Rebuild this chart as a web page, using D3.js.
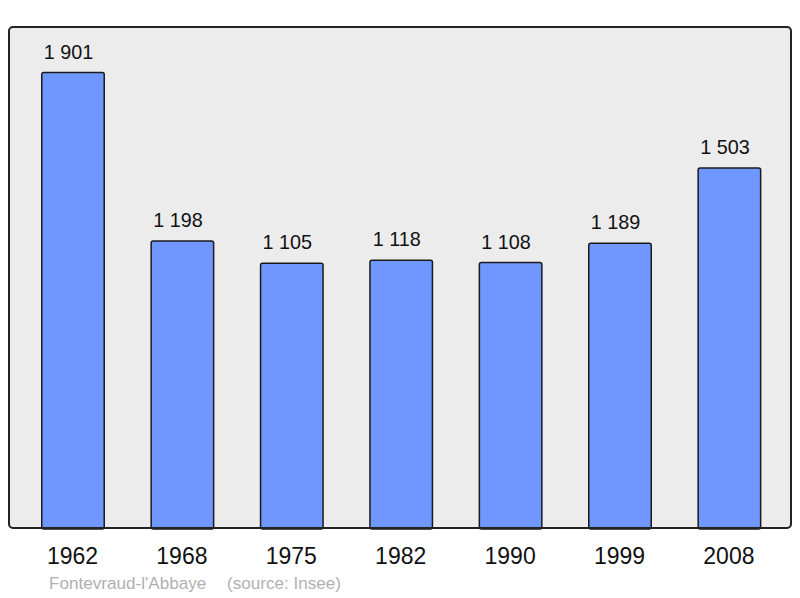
<!DOCTYPE html>
<html><head><meta charset="utf-8">
<script src="https://cdn.jsdelivr.net/npm/d3@7"></script>
<style>body{margin:0;background:#fff}svg{display:block}</style>
</head><body>
<script>
const years = ["1962","1968","1975","1982","1990","1999","2008"];
const population = [1901,1198,1105,1118,1108,1189,1503];
const valueLabels = ["1 901","1 198","1 105","1 118","1 108","1 189","1 503"];
const footerName = "Fontevraud-l'Abbaye";
const footerSource = "(source: Insee)";

const W = 800, H = 598;
const frame = {x0: 9, y0: 27, x1: 791, y1: 528};
const svg = d3.select("body").append("svg").attr("width", W).attr("height", H);

svg.append("rect")
  .attr("x", frame.x0).attr("y", frame.y0)
  .attr("width", frame.x1 - frame.x0).attr("height", frame.y1 - frame.y0)
  .attr("rx", 4).attr("ry", 4)
  .attr("fill", "#ececec").attr("stroke", "#222").attr("stroke-width", 2);

const x = d3.scaleBand().domain(years).range([18.3, 784.1]).padding(0);
const y = d3.scaleLinear().domain([0, d3.max(population) * 1.1]).range([frame.y1, frame.y0]);
const bw = x.bandwidth() * 0.571;

const g = svg.append("g");
g.selectAll("rect.bar").data(years).enter().append("rect")
  .attr("class", "bar")
  .attr("x", d => x(d) + x.bandwidth() / 2 - bw / 2)
  .attr("y", (d, i) => y(population[i]))
  .attr("width", bw)
  .attr("height", (d, i) => frame.y1 - y(population[i]) + 1)
  .attr("rx", 2).attr("ry", 2)
  .attr("fill", "#7097ff").attr("stroke", "#1a1a1a").attr("stroke-width", 1.5);

svg.append("line")
  .attr("x1", frame.x0 + 3).attr("x2", frame.x1 - 3)
  .attr("y1", frame.y1).attr("y2", frame.y1)
  .attr("stroke", "#222").attr("stroke-width", 2);

g.selectAll("text.val").data(years).enter().append("text")
  .attr("class", "val")
  .attr("x", d => x(d) + x.bandwidth() / 2 - 4.5)
  .attr("y", (d, i) => y(population[i]) - 14)
  .attr("text-anchor", "middle")
  .attr("font-family", "Liberation Sans, Arial, sans-serif")
  .attr("font-size", 19.8).attr("fill", "#111")
  .text((d, i) => valueLabels[i]);

const xAxis = d3.axisBottom(x).tickSize(0).tickPadding(0);
const ax = svg.append("g").attr("transform", `translate(0,${frame.y1})`).call(xAxis);
ax.select(".domain").remove();
ax.selectAll("text")
  .attr("x", -0.5)
  .attr("y", 36).attr("dy", 0)
  .attr("font-family", "Liberation Sans, Arial, sans-serif")
  .attr("font-size", 23).attr("fill", "#111");

svg.append("text").attr("x", 49).attr("y", 589)
  .attr("font-family", "Liberation Sans, Arial, sans-serif")
  .attr("font-size", 17.1).attr("fill", "#b0b0b0").text(footerName);
svg.append("text").attr("x", 227).attr("y", 589)
  .attr("font-family", "Liberation Sans, Arial, sans-serif")
  .attr("font-size", 17.1).attr("fill", "#b0b0b0").text(footerSource);
</script>
</body></html>
